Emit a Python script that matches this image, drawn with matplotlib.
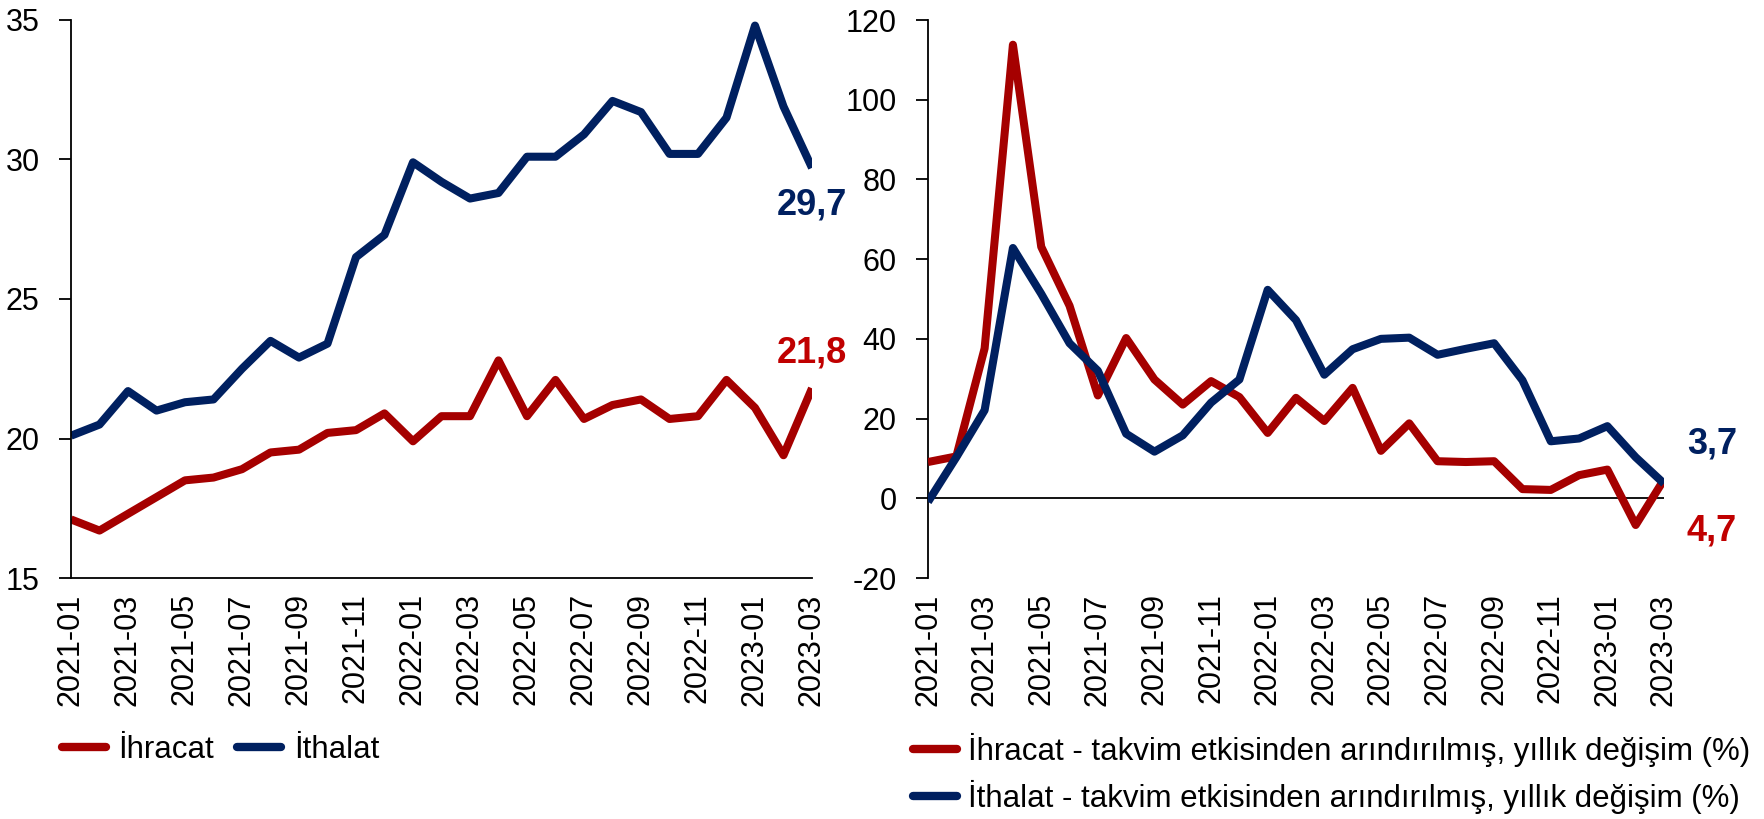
import matplotlib
matplotlib.use("Agg")
import matplotlib.pyplot as plt
import numpy as np

plt.rcParams['font.family'] = ['Liberation Sans', 'DejaVu Sans']
plt.rcParams['axes.unicode_minus'] = False

months = ["2021-01", "2021-02", "2021-03", "2021-04", "2021-05", "2021-06", "2021-07",
          "2021-08", "2021-09", "2021-10", "2021-11", "2021-12", "2022-01", "2022-02",
          "2022-03", "2022-04", "2022-05", "2022-06", "2022-07", "2022-08", "2022-09",
          "2022-10", "2022-11", "2022-12", "2023-01", "2023-02", "2023-03"]

ihracat = [17.1, 16.7, 17.3, 17.9, 18.5, 18.6, 18.9, 19.5, 19.6, 20.2, 20.3, 20.9, 19.9, 20.8,
           20.8, 22.8, 20.8, 22.1, 20.7, 21.2, 21.4, 20.7, 20.8, 22.1, 21.1, 19.4, 21.8]
ithalat = [20.1, 20.5, 21.7, 21.0, 21.3, 21.4, 22.5, 23.5, 22.9, 23.4, 26.5, 27.3, 29.9, 29.2,
           28.6, 28.8, 30.1, 30.1, 30.9, 32.1, 31.7, 30.2, 30.2, 31.5, 34.8, 31.9, 29.7]

ihracat_chg = [9.1, 10.5, 37.6, 113.8, 63.1, 48.3, 25.8, 40.2, 29.8, 23.5, 29.4, 25.4, 16.4, 25.2,
               19.4, 27.7, 11.9, 18.8, 9.3, 9.1, 9.3, 2.3, 2.1, 5.8, 7.2, -6.7, 4.7]
ithalat_chg = [-0.9, 10.3, 22.1, 62.8, 51.3, 38.9, 32.0, 16.2, 11.7, 15.8, 24.0, 29.8, 52.3, 44.7,
               31.0, 37.4, 40.0, 40.3, 36.0, 37.5, 38.9, 29.6, 14.3, 15.0, 18.1, 10.3, 3.7]

left_labels = ["İhracat", "İthalat"]
right_labels = ["İhracat - takvim etkisinden arındırılmış, yıllık değişim (%)",
                "İthalat - takvim etkisinden arındırılmış, yıllık değişim (%)"]

RED = "#A50000"
RED_TXT = "#C00000"
BLUE = "#002060"
FS = 22
LFS = 22.5
LW = 5.8

W, H = 1765, 819
fig = plt.figure(figsize=(W / 100, H / 100), dpi=100)

def fx(px):
    return px / W

def fy(py):
    return 1 - py / H

top, bot = 20, 578
axL = fig.add_axes([fx(71), fy(bot), fx(812) - fx(71), fy(top) - fy(bot)])
axR = fig.add_axes([fx(928), fy(bot), fx(1664) - fx(928), fy(top) - fy(bot)])

x = np.arange(len(months))

for ax in (axL, axR):
    ax.spines['top'].set_visible(False)
    ax.spines['right'].set_visible(False)
    ax.spines['left'].set_linewidth(1.3)
    ax.spines['bottom'].set_linewidth(1.3)
    ax.set_xlim(0, len(months) - 1)
    ax.set_xticks(x[::2])
    ax.set_xticklabels(months[::2], rotation=90, fontsize=FS)
    ax.tick_params(axis='x', length=0, pad=11)
    ax.tick_params(axis='y', length=9, width=1.3, pad=13.5, labelsize=FS, direction='out')

lL1, = axL.plot(x, ihracat, color=RED, lw=LW, solid_joinstyle='round', solid_capstyle='butt')
lL2, = axL.plot(x, ithalat, color=BLUE, lw=LW, solid_joinstyle='round', solid_capstyle='butt')
axL.set_ylim(15, 35)
axL.set_yticks([15, 20, 25, 30, 35])

axR.axhline(0, color='black', lw=1.3, zorder=1)
lR1, = axR.plot(x, ihracat_chg, color=RED, lw=LW, solid_joinstyle='round', solid_capstyle='butt', zorder=3)
lR2, = axR.plot(x, ithalat_chg, color=BLUE, lw=LW, solid_joinstyle='round', solid_capstyle='butt', zorder=3)
axR.set_ylim(-20, 120)
axR.set_yticks(np.arange(-20, 121, 20))
axR.spines['bottom'].set_visible(False)

def fmt(v):
    return f"{v:.1f}".replace('.', ',')

last = len(months) - 1
axL.annotate(fmt(ithalat[-1]), (last, ithalat[-1]), xytext=(0, -37), textcoords='offset pixels',
             ha='center', va='center', fontsize=26, fontweight='bold', color=BLUE, annotation_clip=False)
axL.annotate(fmt(ihracat[-1]), (last, ihracat[-1]), xytext=(0, 35), textcoords='offset pixels',
             ha='center', va='center', fontsize=26, fontweight='bold', color=RED_TXT, annotation_clip=False)
axR.annotate(fmt(ithalat_chg[-1]), (last, ithalat_chg[-1]), xytext=(48, 40), textcoords='offset pixels',
             ha='center', va='center', fontsize=26, fontweight='bold', color=BLUE, annotation_clip=False)
axR.annotate(fmt(ihracat_chg[-1]), (last, ihracat_chg[-1]), xytext=(48, -51), textcoords='offset pixels',
             ha='center', va='center', fontsize=26, fontweight='bold', color=RED_TXT, annotation_clip=False)

legL = fig.legend([lL1, lL2], left_labels, loc='center left', bbox_to_anchor=(fx(62), fy(750)),
                  ncol=2, frameon=False, fontsize=LFS, handlelength=1.4, handletextpad=0.4,
                  columnspacing=0.75, borderpad=0, borderaxespad=0)
legR = fig.legend([lR1, lR2], right_labels, loc='center left', bbox_to_anchor=(fx(913), fy(773.5)),
                  ncol=1, frameon=False, fontsize=LFS, handlelength=1.4, handletextpad=0.35,
                  labelspacing=0.42, borderpad=0, borderaxespad=0)
for leg in (legL, legR):
    for h in leg.legend_handles:
        h.set_solid_capstyle('round')
        h.set_linewidth(6)

fig.savefig("out.png", dpi=100)
